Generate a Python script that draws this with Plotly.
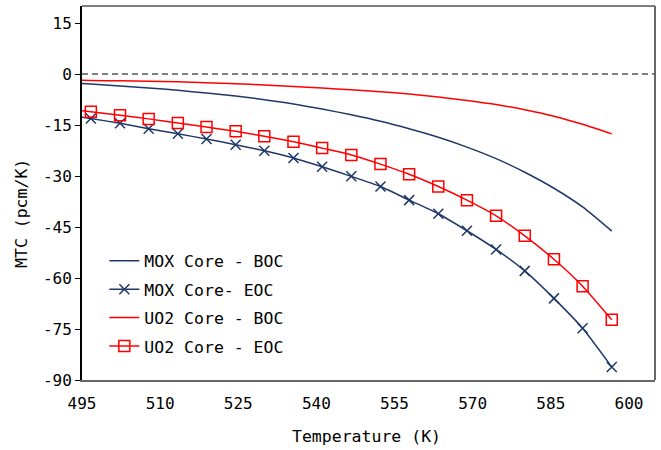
import plotly.graph_objects as go

# Temperature (K); first value lies just left of the axis minimum (line enters from edge)
temperature = [491.1, 496.7, 502.3, 507.8, 513.4, 518.9, 524.5, 530.0, 535.6, 541.1,
               546.7, 552.3, 557.8, 563.4, 568.9, 574.5, 580.0, 585.6, 591.1, 596.7]

mox_boc = [-2.45, -2.95, -3.5, -4.1, -4.8, -5.6, -6.5, -7.55, -8.8, -10.3,
           -12.0, -13.9, -16.1, -18.6, -21.5, -24.9, -28.9, -33.6, -39.1, -46.2]
mox_eoc = [-11.8, -13.1, -14.5, -16.1, -17.6, -19.1, -20.8, -22.6, -24.7, -27.3,
           -30.1, -33.1, -37.1, -41.1, -46.1, -51.6, -57.9, -66.0, -74.8, -86.2]
uo2_boc = [-1.8, -1.9, -2.0, -2.12, -2.3, -2.55, -2.85, -3.25, -3.7, -4.15,
           -4.65, -5.2, -5.9, -6.75, -7.8, -9.0, -10.5, -12.4, -14.8, -17.6]
uo2_eoc = [-10.1, -11.1, -12.15, -13.2, -14.4, -15.6, -16.85, -18.3, -19.9, -21.8,
           -23.8, -26.5, -29.5, -33.1, -37.1, -41.7, -47.6, -54.5, -62.4, -72.3]

x_ticks = [495, 510, 525, 540, 555, 570, 585, 600]
y_ticks = [15, 0, -15, -30, -45, -60, -75, -90]
zero_level = 0

BLUE = "#1F3868"
RED = "#FF0000"
FONT = "DejaVu Sans Mono"

fig = go.Figure()
fig.add_trace(go.Scatter(x=temperature, y=mox_boc, mode="lines", name="MOX Core - BOC",
                         line=dict(color=BLUE, width=1.5, shape="spline", smoothing=0.6),
                         legendgroup="a"))
fig.add_trace(go.Scatter(x=temperature, y=mox_eoc, mode="lines+markers", name="MOX Core- EOC",
                         line=dict(color=BLUE, width=1.5, shape="spline", smoothing=0.6),
                         marker=dict(symbol="x-thin", size=10, line=dict(color=BLUE, width=1.5)),
                         legendgroup="b"))
fig.add_trace(go.Scatter(x=temperature, y=uo2_boc, mode="lines", name="UO2 Core - BOC",
                         line=dict(color=RED, width=1.5, shape="spline", smoothing=0.6),
                         legendgroup="c"))
fig.add_trace(go.Scatter(x=temperature, y=uo2_eoc, mode="lines+markers", name="UO2 Core - EOC",
                         line=dict(color=RED, width=1.5, shape="spline", smoothing=0.6),
                         marker=dict(symbol="square-open", size=11, color=RED,
                                     line=dict(color=RED, width=1.5)),
                         legendgroup="d"))

fig.add_shape(type="line", xref="paper", x0=0, x1=1, yref="y", y0=zero_level, y1=zero_level,
              line=dict(color="black", width=1, dash="6px,4px"))
# top and right plot-area border
fig.add_shape(type="line", xref="paper", yref="paper", x0=0, x1=1, y0=1, y1=1,
              line=dict(color="black", width=1))
fig.add_shape(type="line", xref="paper", yref="paper", x0=1, x1=1, y0=0, y1=1,
              line=dict(color="#666666", width=2))

fig.update_layout(
    width=661, height=450,
    margin=dict(l=82, r=6, t=6, b=70),
    paper_bgcolor="white", plot_bgcolor="white",
    font=dict(family=FONT, size=16, color="black"),
    showlegend=True,
    legend=dict(x=0.039, y=0.365, xanchor="left", yanchor="top",
                bgcolor="rgba(0,0,0,0)", font=dict(family=FONT, size=16.5),
                traceorder="grouped", tracegroupgap=4, itemwidth=30),
    xaxis=dict(range=[495, 605], tickvals=x_ticks, ticktext=[str(v) for v in x_ticks],
               showgrid=False, zeroline=False, showline=True, linecolor="#666666", linewidth=2,
               ticks="", ticklabelstandoff=8, tickfont=dict(family=FONT, size=16)),
    yaxis=dict(range=[-90, 20], tickvals=y_ticks, ticktext=[str(v) for v in y_ticks],
               showgrid=False, zeroline=False, showline=True, linecolor="black", linewidth=2,
               ticks="outside", ticklen=5, tickcolor="black", tickwidth=1,
               tickfont=dict(family=FONT, size=16)),
    annotations=[
        dict(text="Temperature (K)", xref="paper", yref="paper", x=0.497, y=-0.152,
             xanchor="center", yanchor="middle", showarrow=False,
             font=dict(family=FONT, size=16.5)),
        dict(text="MTC (pcm/K)", xref="paper", yref="paper", x=-0.1065, y=0.4465,
             xanchor="center", yanchor="middle", showarrow=False, textangle=-90,
             font=dict(family=FONT, size=16.5)),
    ],
)

fig.write_html("out.html")
